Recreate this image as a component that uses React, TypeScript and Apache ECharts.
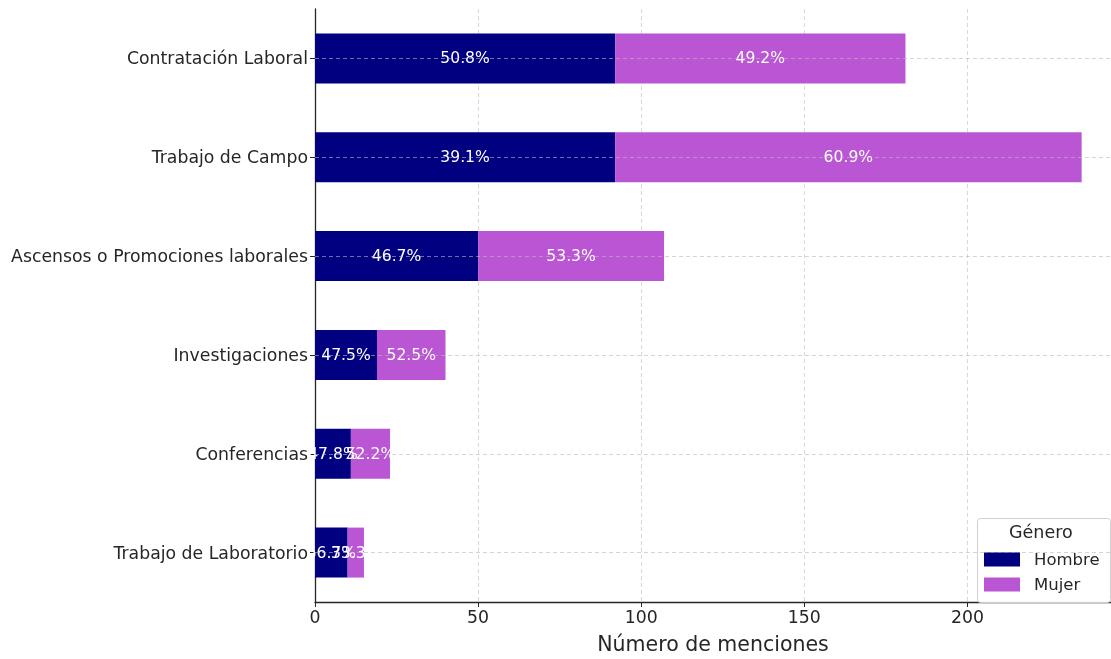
import React, { useEffect, useRef } from "react";
import * as echarts from "echarts";

const categories = [
  "Contratación Laboral",
  "Trabajo de Campo",
  "Ascensos o Promociones laborales",
  "Investigaciones",
  "Conferencias",
  "Trabajo de Laboratorio",
];
const hombre = [92, 92, 50, 19, 11, 10];
const mujer = [89, 143, 57, 21, 12, 5];
const xTicks = [0, 50, 100, 150, 200];

const FONT = "DejaVu Sans";

export default function App() {
  const ref = useRef<HTMLDivElement>(null);
  useEffect(() => {
    if (!ref.current) return;
    const chart = echarts.init(ref.current, undefined, { renderer: "svg" });
    const s = chart.getHeight() / 659;
    const totals = hombre.map((h, i) => h + mujer[i]);
    const pct = (arr: number[]) => (p: any) =>
      ((arr[p.dataIndex] / totals[p.dataIndex]) * 100).toFixed(1) + "%";
    const labelCfg = (arr: number[]) => ({
      show: true,
      position: "inside",
      color: "#ffffff",
      fontFamily: FONT,
      fontSize: 15.6,
      formatter: pct(arr),
    });
    chart.setOption({
      animation: false,
      textStyle: { fontFamily: FONT },
      grid: { left: 315, right: 0, top: 9 * s, height: 601 * s, containLabel: false },
      xAxis: {
        type: "value",
        min: 0,
        max: 244,
        interval: 50,
        name: "Número de menciones",
        nameLocation: "middle",
        nameGap: 31 * s,
        nameTextStyle: { fontSize: 20.5, color: "#262626", fontFamily: FONT },
        axisLine: { show: true, lineStyle: { color: "#262626", width: 1.3 } },
        axisTick: { show: true, length: 5, lineStyle: { color: "#262626" } },
        axisLabel: {
          fontSize: 17.3,
          color: "#262626",
          fontFamily: FONT,
          margin: 6 * s,
          showMaxLabel: false,
          formatter: (v: number) => (xTicks.includes(v) ? String(v) : ""),
        },
        splitLine: {
          show: true,
          lineStyle: { color: "#d9d9d9", type: [4, 3], width: 1 },
        },
      },
      yAxis: {
        type: "category",
        data: categories,
        inverse: true,
        axisLine: { show: true, lineStyle: { color: "#262626", width: 1.3 } },
        axisTick: { show: true, alignWithLabel: true, length: 5, lineStyle: { color: "#262626" } },
        axisLabel: { fontSize: 17.3, color: "#262626", fontFamily: FONT, margin: 7 },
        splitLine: { show: false },
      },
      legend: {
        orient: "vertical",
        left: 979,
        top: 546 * s,
        z: 10,
        itemWidth: 36,
        itemHeight: 14,
        itemGap: 8 * s,
        icon: "rect",
        textStyle: { fontSize: 16.5, color: "#262626", fontFamily: FONT, padding: [0, 0, 0, 9] },
        data: ["Hombre", "Mujer"],
      },
      graphic: [
        {
          type: "rect",
          left: 977,
          top: 518 * s,
          shape: { width: 133, height: 84 * s, r: 3 },
          style: { fill: "rgba(255,255,255,0.85)", stroke: "#d0d0d0", lineWidth: 1 },
          z: 3,
        },
        {
          type: "text",
          left: 1009,
          top: 523 * s,
          style: { text: "Género", fontSize: 17.5, fill: "#262626", fontFamily: FONT },
          z: 4,
        },
      ],
      series: [
        {
          name: "Hombre",
          type: "bar",
          stack: "total",
          data: hombre,
          barWidth: 50 * s,
          itemStyle: { color: "#000080" },
          label: labelCfg(hombre),
          markLine: {
            silent: true,
            symbol: "none",
            label: { show: false },
            lineStyle: { color: "#b8b8b8", type: [4, 3], width: 1, opacity: 0.6 },
            data: categories.map((c) => ({ yAxis: c })),
            z: 5,
          },
        },
        {
          name: "Mujer",
          type: "bar",
          stack: "total",
          data: mujer,
          barWidth: 50 * s,
          itemStyle: { color: "#BA55D3" },
          label: labelCfg(mujer),
        },
      ],
    });
    return () => chart.dispose();
  }, []);
  return (
    <div
      ref={ref}
      style={{ position: "fixed", left: 0, top: 0, width: 1111, height: "100vh" }}
    />
  );
}
